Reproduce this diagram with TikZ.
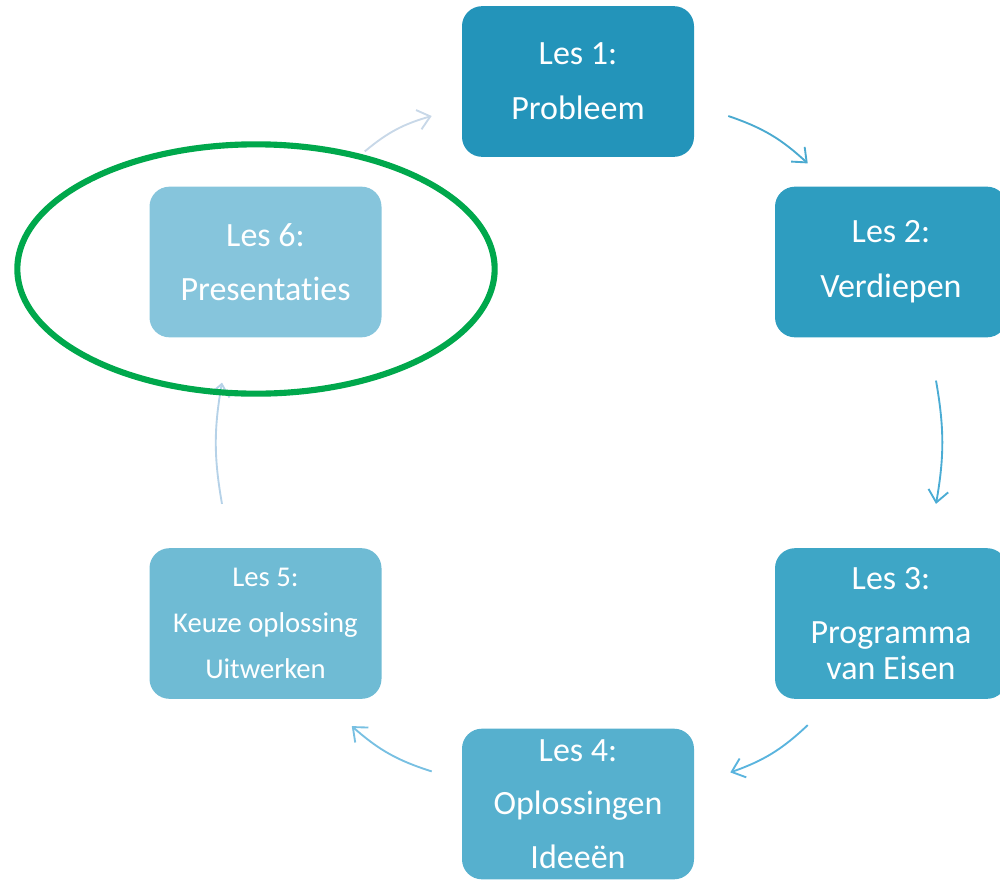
\documentclass[tikz,border=0pt]{standalone}
\usepackage{fontspec}
\setmainfont{Carlito}[Ligatures=NoCommon]
\usetikzlibrary{arrows.meta,calc,shapes.geometric}
\definecolor{cb1}{RGB}{35,148,186}
\definecolor{cb2}{RGB}{46,157,192}
\definecolor{cb3}{RGB}{62,166,198}
\definecolor{cb4}{RGB}{86,176,206}
\definecolor{cb5}{RGB}{111,187,212}
\definecolor{cb6}{RGB}{134,197,220}
\definecolor{ca12}{RGB}{75,170,208}
\definecolor{ca23}{RGB}{75,172,212}
\definecolor{ca34}{RGB}{90,180,222}
\definecolor{ca45}{RGB}{120,192,226}
\definecolor{ca56}{RGB}{182,210,232}
\definecolor{ca61}{RGB}{200,216,232}
\definecolor{ringgreen}{RGB}{0,168,76}
\begin{document}
\begin{tikzpicture}[x=0.75pt,y=-0.75pt,
  box/.style={rounded corners=15pt, minimum width=174pt, minimum height=113pt,
    inner sep=0pt, text=white, align=center, draw=none,
    font=\fontsize{25.5}{27}\selectfont},
  smallbox/.style={box, font=\fontsize{21.5}{34.5}\selectfont},
  arr/.style={line width=1.4pt, -{Straight Barb[length=9pt,width=15pt,line width=1.4pt]}}]
\useasboundingbox (0,0) rectangle (1000,879);
\clip (0,0) rectangle (1000,879);
\node[box, fill=cb1] (b1) at (578,81.5) {Les 1:\\[14pt]Probleem};
\node[box, fill=cb2] (b2) at (891,262) {Les 2:\\[14pt]Verdiepen};
\node[box, fill=cb3] (b3) at (891,623.5) {Les 3:\\[13pt]Programma\\van Eisen};
\node[box, fill=cb4] (b4) at (578,804) {Les 4:\\[13pt]Oplossingen\\[13pt]Ideeën};
\node[smallbox, fill=cb5] (b5) at (265.5,623.5) {Les 5:\\Keuze oplossing\\Uitwerken};
\node[box, fill=cb6] (b6) at (265.5,262) {Les 6:\\[13pt]Presentaties};

\coordinate (a12s) at ($(b1.east)+(34,34.5)$);
\coordinate (a12e) at ($(b2.north west)+(33,-23)$);
\coordinate (a23s) at ($(b2.south)+(45,43)$);
\coordinate (a23e) at ($(b3.north)+(45,-44)$);
\coordinate (a34s) at ($(b3.south west)+(33,26)$);
\coordinate (a34e) at ($(b4.north east)+(36,44)$);
\coordinate (a45s) at ($(b4.north west)+(-30,43)$);
\coordinate (a45e) at ($(b5.south east)+(-30,27)$);
\coordinate (a56s) at ($(b5.north)+(-43.5,-44)$);
\coordinate (a56e) at ($(b6.south)+(-43.5,45)$);
\coordinate (a61s) at ($(b6.north east)+(-17,-35)$);
\coordinate (a61e) at ($(b1.west)+(-30,34.5)$);

\draw[arr, ca12] (a12s) to[bend left=12] (a12e);
\draw[arr, ca23] (a23s) to[bend left=10] (a23e);
\draw[arr, ca34] (a34s) to[bend left=12] (a34e);
\draw[arr, ca45] (a45s) to[bend left=12] (a45e);
\draw[arr, ca56] (a56s) to[bend left=10] (a56e);
\draw[arr, ca61] (a61s) to[bend left=12] (a61e);

\node[draw=ringgreen, line width=4.6pt, ellipse, minimum width=358pt, minimum height=187pt, inner sep=0pt] (ring) at (256,269) {};
\end{tikzpicture}
\end{document}
